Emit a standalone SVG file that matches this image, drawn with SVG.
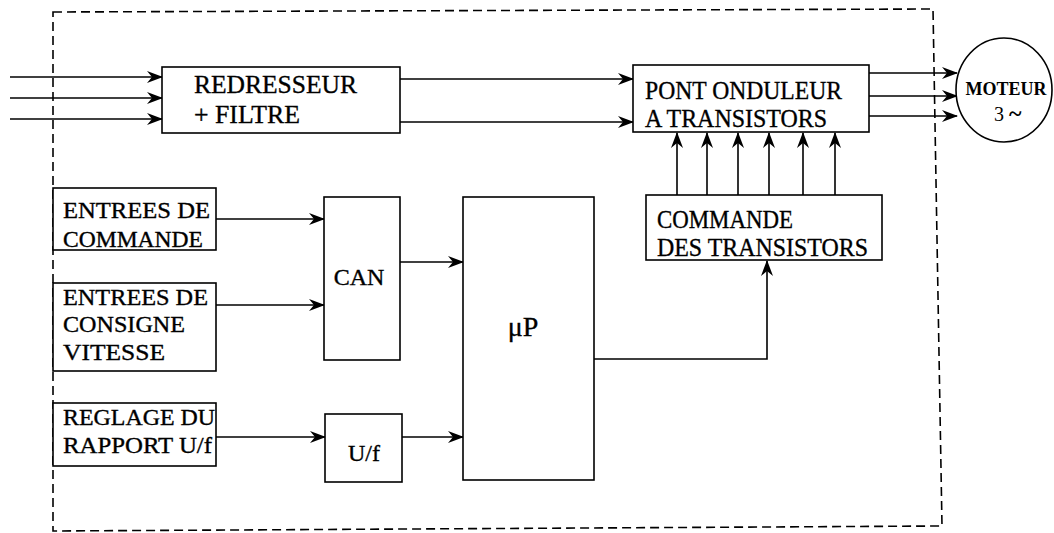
<svg xmlns="http://www.w3.org/2000/svg" width="1054" height="533" viewBox="0 0 1054 533">
<style>
  .box{fill:#fff;stroke:#000;stroke-width:1.6}
  .t{font-family:"Liberation Serif","Times New Roman",serif;font-size:26px;fill:#000;stroke:#000;stroke-width:0.35}
  .s{font-size:23px}
  .ln{fill:none;stroke:#000;stroke-width:1.6}
  .arr{marker-end:url(#ah)}
  .dash{fill:none;stroke:#000;stroke-width:1.6;stroke-dasharray:9,5}
</style>
<defs>
  <marker id="ah" viewBox="0 0 16 12" refX="15" refY="6" markerWidth="16" markerHeight="12" markerUnits="userSpaceOnUse" orient="auto">
    <path d="M0,0 L16,6 L0,12 L5,6 z" fill="#000"/>
  </marker>
</defs>
<rect width="1054" height="533" fill="#fff"/>
<g id="boundary">
  <polygon class="dash" points="53,12 933,9 942,526 53,531"/>
</g>
<g id="connectors">
  <line class="ln arr" x1="10" y1="77" x2="162" y2="77"/>
  <line class="ln arr" x1="10" y1="98" x2="162" y2="98"/>
  <line class="ln arr" x1="10" y1="119" x2="162" y2="119"/>
  <line class="ln arr" x1="400" y1="79" x2="633" y2="79"/>
  <line class="ln arr" x1="400" y1="122" x2="633" y2="122"/>
  <line class="ln arr" x1="869" y1="73" x2="957" y2="73"/>
  <line class="ln arr" x1="869" y1="96" x2="957" y2="96"/>
  <line class="ln arr" x1="869" y1="116" x2="957" y2="116"/>
  <line class="ln arr" x1="677" y1="195" x2="677" y2="133"/>
  <line class="ln arr" x1="707" y1="195" x2="707" y2="133"/>
  <line class="ln arr" x1="738" y1="195" x2="738" y2="133"/>
  <line class="ln arr" x1="769" y1="195" x2="769" y2="133"/>
  <line class="ln arr" x1="803" y1="195" x2="803" y2="133"/>
  <line class="ln arr" x1="835" y1="195" x2="835" y2="133"/>
  <line class="ln arr" x1="216" y1="219" x2="324" y2="219"/>
  <line class="ln arr" x1="216" y1="305" x2="324" y2="305"/>
  <line class="ln arr" x1="216" y1="437" x2="325" y2="437"/>
  <line class="ln arr" x1="400" y1="262" x2="463" y2="262"/>
  <line class="ln arr" x1="402" y1="437" x2="463" y2="437"/>
  <path class="ln arr" d="M594,359 H767 V261"/>
</g>
<g id="redresseur">
  <rect class="box" x="162" y="67" width="238" height="66"/>
  <text class="t" x="194" y="93" textLength="163" lengthAdjust="spacingAndGlyphs">REDRESSEUR</text>
  <text class="t" x="194" y="123" textLength="106" lengthAdjust="spacingAndGlyphs">+ FILTRE</text>
</g>
<g id="pont">
  <rect class="box" x="633" y="65" width="236" height="67"/>
  <text class="t" x="645" y="99" textLength="197" lengthAdjust="spacingAndGlyphs">PONT ONDULEUR</text>
  <text class="t" x="645" y="127" textLength="182" lengthAdjust="spacingAndGlyphs">A TRANSISTORS</text>
</g>
<g id="moteur">
  <ellipse cx="1004" cy="90" rx="48" ry="52" fill="#fff" stroke="#000" stroke-width="1.6"/>
  <text x="1006" y="95" text-anchor="middle" font-family="Liberation Serif, Times New Roman, serif" font-size="18" font-weight="bold">MOTEUR</text>
  <text x="994" y="121" font-family="Liberation Serif, Times New Roman, serif" font-size="20">3 <tspan font-weight="bold" font-size="24">~</tspan></text>
</g>
<g id="commande-transistors">
  <rect class="box" x="646" y="195" width="236" height="65"/>
  <text class="t" x="657" y="228" textLength="136" lengthAdjust="spacingAndGlyphs">COMMANDE</text>
  <text class="t" x="657" y="256" textLength="211" lengthAdjust="spacingAndGlyphs">DES TRANSISTORS</text>
</g>
<g id="entrees-commande">
  <rect class="box" x="53" y="188" width="163" height="62"/>
  <text class="t s" x="63" y="218" textLength="147" lengthAdjust="spacingAndGlyphs">ENTREES DE</text>
  <text class="t s" x="63" y="247" textLength="140" lengthAdjust="spacingAndGlyphs">COMMANDE</text>
</g>
<g id="entrees-consigne">
  <rect class="box" x="53" y="283" width="163" height="88"/>
  <text class="t s" x="63" y="305" textLength="145" lengthAdjust="spacingAndGlyphs">ENTREES DE</text>
  <text class="t s" x="63" y="332" textLength="122" lengthAdjust="spacingAndGlyphs">CONSIGNE</text>
  <text class="t s" x="63" y="360" textLength="102" lengthAdjust="spacingAndGlyphs">VITESSE</text>
</g>
<g id="reglage">
  <rect class="box" x="53" y="403" width="163" height="63"/>
  <text class="t s" x="63" y="425" textLength="152" lengthAdjust="spacingAndGlyphs">REGLAGE DU</text>
  <text class="t s" x="63" y="453" textLength="149" lengthAdjust="spacingAndGlyphs">RAPPORT U/f</text>
</g>
<g id="can">
  <rect class="box" x="324" y="197" width="76" height="163"/>
  <text class="t" x="359" y="285" text-anchor="middle" style="font-size:24px">CAN</text>
</g>
<g id="uf">
  <rect class="box" x="325" y="414" width="77" height="68"/>
  <text class="t" x="364" y="461" text-anchor="middle" style="font-size:24px">U/f</text>
</g>
<g id="up">
  <rect class="box" x="463" y="197" width="131" height="283"/>
  <text class="t" x="523" y="336" text-anchor="middle" style="font-size:28px">μP</text>
</g>
</svg>
